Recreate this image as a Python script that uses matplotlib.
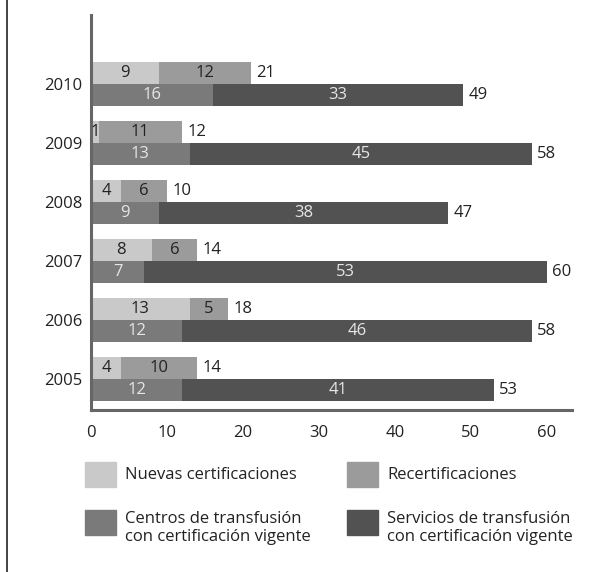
import matplotlib.pyplot as plt
from matplotlib.patches import Rectangle
from matplotlib.lines import Line2D

years = ["2005", "2006", "2007", "2008", "2009", "2010"]
nuevas = [4, 13, 8, 4, 1, 9]
recert = [10, 5, 6, 6, 11, 12]
centros = [12, 12, 7, 9, 13, 16]
servicios = [41, 46, 53, 38, 45, 33]

labels = [
    "Nuevas certificaciones",
    "Recertificaciones",
    "Centros de transfusión\ncon certificación vigente",
    "Servicios de transfusión\ncon certificación vigente",
]
colors = ["#c9c9c9", "#9b9b9b", "#7a7a7a", "#525252"]

plt.rcParams["font.family"] = ["Open Sans", "DejaVu Sans"]
fig = plt.figure(figsize=(5.97, 5.72), dpi=100)
ax = fig.add_axes([0.1524, 0.2832, 0.8056, 0.6906])

h = 0.37
ypos = list(range(len(years)))
up = [y + h / 2 for y in ypos]
lo = [y - h / 2 for y in ypos]

b1 = ax.barh(up, nuevas, height=h, color=colors[0])
b2 = ax.barh(up, recert, left=nuevas, height=h, color=colors[1])
b3 = ax.barh(lo, centros, height=h, color=colors[2])
b4 = ax.barh(lo, servicios, left=centros, height=h, color=colors[3])

fs = 12
for bars, tc in [(b1, "#222222"), (b2, "#222222"), (b3, "#e6e6e6"), (b4, "#e6e6e6")]:
    ax.bar_label(bars, label_type="center", color=tc, fontsize=fs)

for i in ypos:
    ax.text(nuevas[i] + recert[i] + 0.7, up[i], str(nuevas[i] + recert[i]),
            va="center", ha="left", fontsize=fs, color="#222222")
    ax.text(centros[i] + servicios[i] + 0.7, lo[i], str(centros[i] + servicios[i]),
            va="center", ha="left", fontsize=fs, color="#222222")

ax.set_xlim(0, 63.3)
ax.set_ylim(-0.525, 6.17)
ax.set_yticks(ypos)
ax.set_yticklabels(years, fontsize=fs, color="#222222")
ax.set_xticks([0, 10, 20, 30, 40, 50, 60])
ax.tick_params(axis="x", labelsize=fs, labelcolor="#222222", length=0, pad=11)
ax.tick_params(axis="y", length=0, pad=6)
for s in ["top", "right"]:
    ax.spines[s].set_visible(False)
for s in ["left", "bottom"]:
    ax.spines[s].set_color("#666666")
    ax.spines[s].set_linewidth(2.2)

# legend drawn by hand to match layout
W, H = 597, 572
pos = [(85, 462), (347, 462), (85, 510), (347, 510)]
for (px, py), lab, c in zip(pos, labels, colors):
    fig.patches.append(Rectangle((px / W, 1 - (py + 25) / H), 31 / W, 25 / H,
                                 transform=fig.transFigure, color=c))
    ty = py + 13 if "\n" not in lab else py + 18
    fig.text((px + 40) / W, 1 - ty / H, lab, fontsize=fs, va="center",
             ha="left", color="#222222", linespacing=1.15)

# left border line
fig.lines.append(Line2D([7 / W, 7 / W], [0, 1], transform=fig.transFigure,
                        color="#222222", linewidth=1.2))

fig.savefig("out.png", dpi=100)
